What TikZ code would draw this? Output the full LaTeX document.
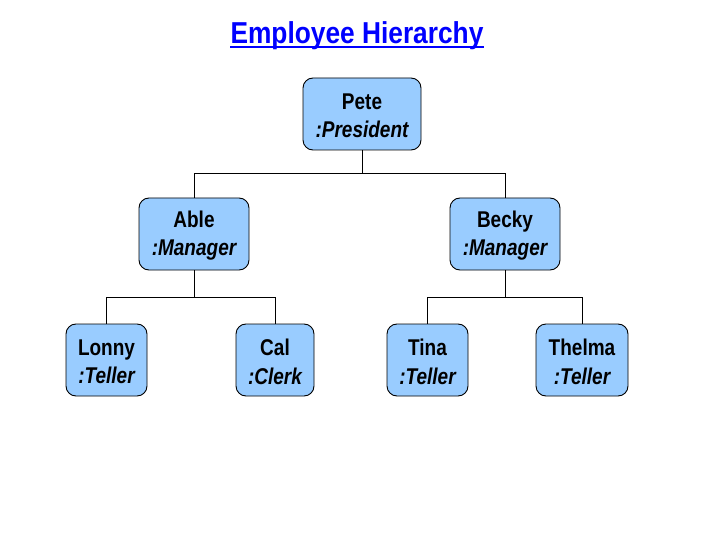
\documentclass[tikz,border=0pt]{standalone}
\usepackage{fontspec}
\setmainfont{Liberation Sans}
\definecolor{boxblue}{RGB}{153,204,255}
\newcommand\talltext[1]{\raisebox{-1.8pt}[\height][\depth]{\scalebox{1}[1.2]{#1}}}
\newcommand\emptext[2]{\talltext{#1}\\\talltext{\itshape :#2}}
\begin{document}
\begin{tikzpicture}[x=1pt,y=-1pt,
  emp/.style={draw=black, line width=0.9pt, fill=boxblue, rounded corners=10pt,
    minimum height=72pt, inner sep=0pt, align=center,
    font=\fontsize{19}{28.5}\selectfont\bfseries},
  link/.style={draw=black, line width=0.8pt}]
\useasboundingbox (0,0) rectangle (720,540);
\fill[white] (0,0) rectangle (720,540);
\node[anchor=base, inner sep=0pt, text=blue, font=\fontsize{26.3}{30}\selectfont\bfseries] (title) at (357,44) {\scalebox{1}[1.15]{Employee Hierarchy}};
\draw[blue, line width=2pt] ([yshift=-3.5pt]title.base west) -- ([yshift=-3.5pt]title.base east);
\node[emp, minimum width=118pt] (pete) at (362,114) {\emptext{Pete}{President}};
\node[emp, minimum width=110pt] (able) at (194,234) {\emptext{Able}{Manager}};
\node[emp, minimum width=110pt] (becky) at (505,234) {\emptext{Becky}{Manager}};
\node[emp, minimum width=81pt] (lonny) at (106.5,360) {\emptext{Lonny}{Teller}};
\node[emp, minimum width=78pt] (cal) at (275,360) {\emptext{Cal}{Clerk}};
\node[emp, minimum width=81pt] (tina) at (427.5,360) {\emptext{Tina}{Teller}};
\node[emp, minimum width=92pt] (thelma) at (582,360) {\emptext{Thelma}{Teller}};
\coordinate (j1) at (362,173);
\coordinate (j2) at (194,297);
\coordinate (j3) at (505,297);
\draw[link] (pete.south) -- (j1);
\draw[link] (j1) -| (able.north);
\draw[link] (j1) -| (becky.north);
\draw[link] (able.south) -- (j2);
\draw[link] (j2) -| (lonny.north);
\draw[link] (j2) -| (cal.north);
\draw[link] (becky.south) -- (j3);
\draw[link] (j3) -| (tina.north);
\draw[link] (j3) -| (thelma.north);
\end{tikzpicture}
\end{document}
